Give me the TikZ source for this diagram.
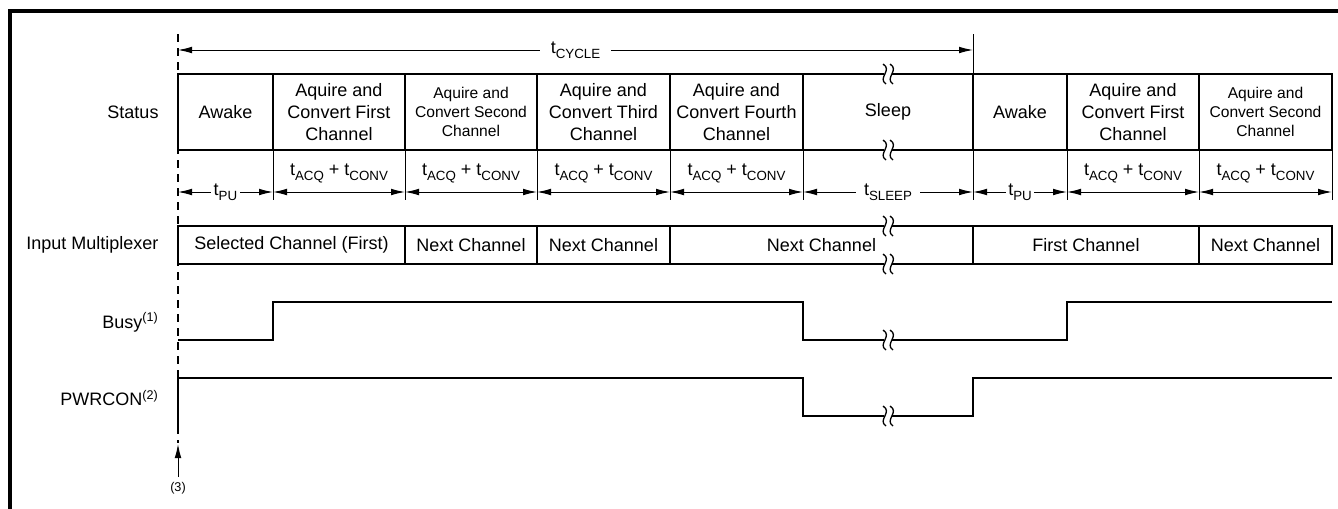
\documentclass[tikz,border=0pt]{standalone}
\usepackage{fontspec}
\setmainfont{Liberation Sans}
\usetikzlibrary{arrows.meta}

\tikzset{every picture/.style={line width=0.75pt}}
\tikzset{
  frameline/.style={line width=2.6pt},
  boxline/.style={line width=1.5pt},
  wave/.style={line width=1.6pt},
  tick/.style={line width=0.75pt},
  dim/.style={line width=0.75pt, {Latex[length=10.5pt,width=5pt]}-{Latex[length=10.5pt,width=5pt]}},
  sig/.style={anchor=east, inner sep=0pt, font=\fontsize{13.5}{16}\selectfont},
  cell/.style={align=center, font=\fontsize{13.5}{16.3}\selectfont},
  cellsm/.style={align=center, font=\fontsize{11.7}{14}\selectfont},
  gap/.pic={
    \fill[white] (-3.6,-2.2) rectangle (3.6,2.2);
    \draw[line width=1pt] (-2,-10) .. controls (-11,-4) and (5,4) .. (-5,10);
    \draw[line width=1pt] (5,-10) .. controls (-4,-4) and (12,4) .. (2,10);
  }
}
\newcommand{\tsb}[1]{t\raisebox{-0.55ex}{\fontsize{10}{10}\selectfont #1}}

\begin{document}
\begin{tikzpicture}[x=0.75pt,y=0.75pt,yscale=-1,xscale=1]
		\useasboundingbox (0,0) rectangle (1338,508);
		
		% column edges
		\foreach \n/\x in {0/178,1/273,2/405,3/537,4/670,5/803,6/973,7/1067,8/1199,9/1332} {
			\coordinate (t\n) at (\x,192);
			\coordinate (b\n) at (\x,150);
			\coordinate (d\n) at (\x,200);
		}
		
		%Frame
		\draw [frameline] (1345,11) -- (10,11) -- (10,515) ;
		
		%Cycle arrow
		\coordinate (cyca) at (178,50);
		\coordinate (cycb) at (973,50);
		\draw [dim] (cyca) -- (cycb) node [midway, fill=white, inner xsep=8pt, font=\fontsize{13.5}{16}\selectfont] (cycle) {\tsb{CYCLE}};
		\draw [tick] (973,34) -- (973,74) ;
		
		%Status table
		\draw [boxline] (178,74) rectangle (1332,150) ;
		\foreach \x in {273,405,537,670,803,973,1067,1199} { \draw [boxline] (\x,74) -- (\x,150) ; }
		\pic at (888,74) {gap};
		\pic at (888,150) {gap};
		
		% Text Node
		\draw (159,112) node [sig] (status) {Status};
		\draw (225.5,112) node [cell] (s1) {Awake};
		\draw (339,112) node [cell] (s2) {Aquire and\\Convert First\\Channel};
		\draw (471,112) node [cellsm] (s3) {Aquire and\\Convert Second\\Channel};
		\draw (603.5,112) node [cell] (s4) {Aquire and\\Convert Third\\Channel};
		\draw (736.5,112) node [cell] (s5) {Aquire and\\Convert Fourth\\Channel};
		\draw (888,112) node [cell] (s6) {Sleep};
		\draw (1020,112) node [cell] (s7) {Awake};
		\draw (1133,112) node [cell] (s8) {Aquire and\\Convert First\\Channel};
		\draw (1265.5,112) node [cellsm] (s9) {Aquire and\\Convert Second\\Channel};
		
		%Timing row
		\foreach \n in {1,...,9} { \draw [tick] (b\n) -- (d\n) ; }
		\draw [dim] (t0) -- (t1) node [midway, fill=white, inner xsep=2pt, font=\fontsize{13.5}{16}\selectfont] (pu1) {\tsb{PU}};
		\draw [dim] (t5) -- (t6) node [midway, fill=white, inner xsep=6pt, font=\fontsize{13.5}{16}\selectfont] (sleep) {\tsb{SLEEP}};
		\draw [dim] (t6) -- (t7) node [midway, fill=white, inner xsep=2pt, font=\fontsize{13.5}{16}\selectfont] (pu2) {\tsb{PU}};
		\foreach \a/\b in {1/2,2/3,3/4,4/5,7/8,8/9} {
			\draw [dim] (t\a) -- (t\b) node [midway, yshift=14pt, font=\fontsize{13.5}{16}\selectfont] (acq\a) {\tsb{ACQ} + \tsb{CONV}};
		}
		
		%Input multiplexer
		\draw [boxline] (178,226) rectangle (1332,264) ;
		\foreach \x in {405,537,670,973,1199} { \draw [boxline] (\x,226) -- (\x,264) ; }
		\pic at (888,226) {gap};
		\pic at (888,264) {gap};
		
		% Text Node
		\draw (159,245) node [sig] (mux) {Input Multiplexer};
		\draw (291.5,245) node [cell] (m1) {Selected Channel (First)};
		\draw (471,245) node [cell] (m2) {Next Channel};
		\draw (603.5,245) node [cell] (m3) {Next Channel};
		\draw (821.5,245) node [cell] (m4) {Next Channel};
		\draw (1086,245) node [cell] (m5) {First Channel};
		\draw (1265.5,245) node [cell] (m6) {Next Channel};
		
		%Busy
		\draw [wave] (178,340) -- (273,340) -- (273,302) -- (803,302) -- (803,340) -- (1067,340) -- (1067,302) -- (1332,302) ;
		\pic at (888,340) {gap};
		\draw (159,322) node [sig] (busy) {Busy\textsuperscript{(1)}};
		
		%PWRCON
		\draw [wave] (178,427) -- (178,378) -- (803,378) -- (803,416) -- (973,416) -- (973,378) -- (1332,378) ;
		\pic at (888,416) {gap};
		\draw (159,398) node [sig] (pwrcon) {PWRCON\textsuperscript{(2)}};
		
		%Start line
		\draw [wave, line width=1.9pt, dash pattern=on 6pt off 4.5pt] (178,34) -- (178,443) ;
		\draw (178,488) node [font=\fontsize{9.5}{10}\selectfont] (note) {(3)};
		\draw [tick, -{Latex[length=10.5pt,width=5pt]}] (note.north) -- (178,444) ;
		
\end{tikzpicture}
\end{document}
